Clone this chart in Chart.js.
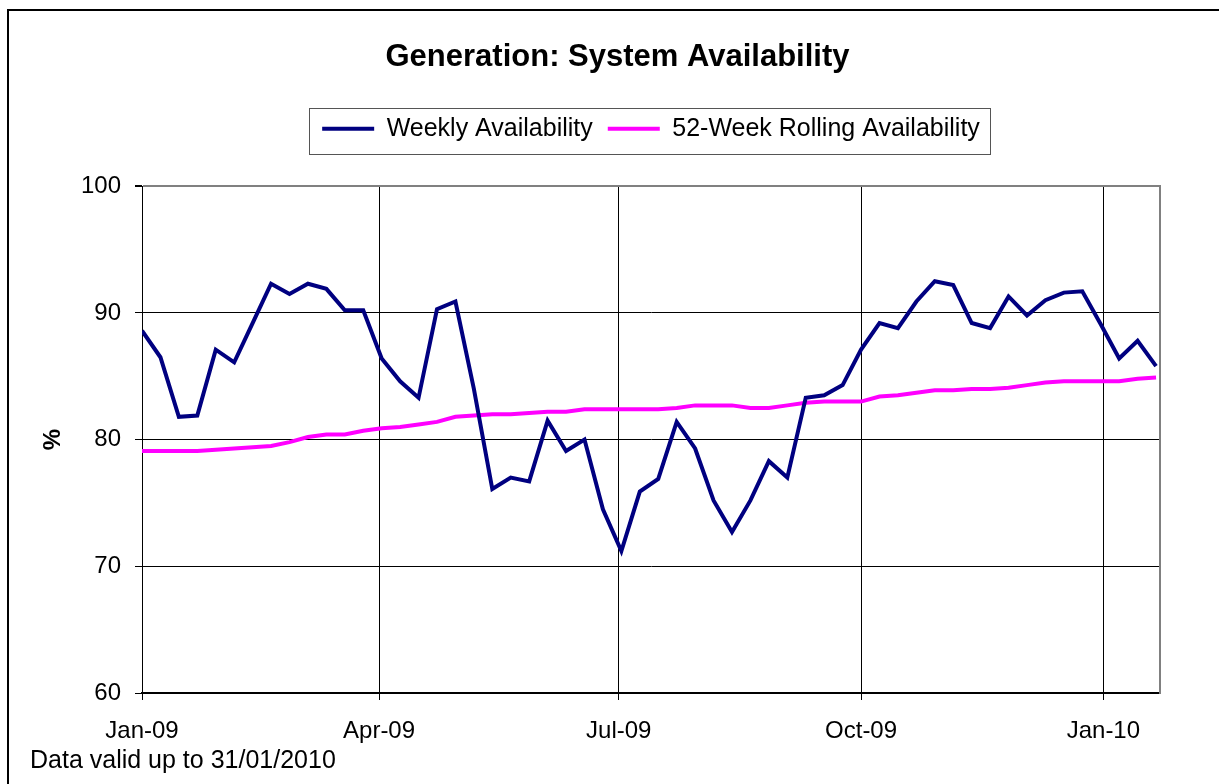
<!DOCTYPE html>
<html>
<head>
<meta charset="utf-8">
<title>Generation: System Availability</title>
<script src="https://cdn.jsdelivr.net/npm/chart.js@4.4.1/dist/chart.umd.min.js"></script>
<style>
  html, body { margin: 0; padding: 0; background: #fff; overflow: hidden; }
  #frame { position: absolute; left: 7px; top: 9px; width: 1400px; height: 1000px; border: 2px solid #000; }
  #wrap { position: absolute; left: 0; top: 0; width: 1219px; height: 784px; }
  #note { position: absolute; left: 30px; top: 747px; font: 25px 'Liberation Sans', Arial, sans-serif; line-height: 25px; color: #000; }
</style>
</head>
<body>
<div id="frame"></div>
<div id="wrap"><canvas id="chartAvailability"></canvas></div>
<div id="note">Data valid up to 31/01/2010</div>
<script>
// weekly readings (Thursdays)
const weekDates = [
    '2009-01-01', '2009-01-08', '2009-01-15', '2009-01-22', '2009-01-29',
    '2009-02-05', '2009-02-12', '2009-02-19', '2009-02-26',
    '2009-03-05', '2009-03-12', '2009-03-19', '2009-03-26',
    '2009-04-02', '2009-04-09', '2009-04-16', '2009-04-23', '2009-04-30',
    '2009-05-07', '2009-05-14', '2009-05-21', '2009-05-28',
    '2009-06-04', '2009-06-11', '2009-06-18', '2009-06-25',
    '2009-07-02', '2009-07-09', '2009-07-16', '2009-07-23', '2009-07-30',
    '2009-08-06', '2009-08-13', '2009-08-20', '2009-08-27',
    '2009-09-03', '2009-09-10', '2009-09-17', '2009-09-24',
    '2009-10-01', '2009-10-08', '2009-10-15', '2009-10-22', '2009-10-29',
    '2009-11-05', '2009-11-12', '2009-11-19', '2009-11-26',
    '2009-12-03', '2009-12-10', '2009-12-17', '2009-12-24', '2009-12-31',
    '2010-01-07', '2010-01-14', '2010-01-21'
];

const weeklyAvailability = [
    88.6, 86.5, 81.8, 81.9, 87.1, 86.1, 89.2, 92.3, 91.5, 92.3,
    91.9, 90.2, 90.2, 86.4, 84.6, 83.3, 90.3, 90.9, 84.0, 76.1,
    77.0, 76.7, 81.5, 79.1, 80.0, 74.5, 71.2, 75.9, 76.9, 81.4,
    79.3, 75.2, 72.7, 75.2, 78.3, 77.0, 83.3, 83.5, 84.3, 87.1,
    89.2, 88.8, 90.9, 92.5, 92.2, 89.2, 88.8, 91.3, 89.8, 91.0,
    91.6, 91.7, 89.1, 86.4, 87.8, 85.8
];

const rollingAvailability = [
    79.1, 79.1, 79.1, 79.1, 79.2, 79.3, 79.4, 79.5, 79.8, 80.2,
    80.4, 80.4, 80.7, 80.9, 81.0, 81.2, 81.4, 81.8, 81.9, 82.0,
    82.0, 82.1, 82.2, 82.2, 82.4, 82.4, 82.4, 82.4, 82.4, 82.5,
    82.7, 82.7, 82.7, 82.5, 82.5, 82.7, 82.9, 83.0, 83.0, 83.0,
    83.4, 83.5, 83.7, 83.9, 83.9, 84.0, 84.0, 84.1, 84.3, 84.5,
    84.6, 84.6, 84.6, 84.6, 84.8, 84.9
];

const tickDates = ['2009-01-01', '2009-04-01', '2009-07-01', '2009-10-01', '2010-01-01'];
const tickLabels = ['Jan-09', 'Apr-09', 'Jul-09', 'Oct-09', 'Jan-10'];

function dayOf(s) {
    const [y, m, d] = s.split('-').map(Number);
    return (Date.UTC(y, m - 1, d) - Date.UTC(2009, 0, 1)) / 86400000;
}

const tickDays = tickDates.map(dayOf);

// extra room between legend and plot
const legendSpace = {
    id: 'legendSpace',
    beforeInit(chart) {
        const fit = chart.legend.fit;
        chart.legend.fit = function () {
            fit.call(this);
            this.height += 35;
        };
    }
};

// border round the legend
const legendBox = {
    id: 'legendBox',
    afterDraw(chart) {
        const boxes = chart.legend.legendHitBoxes;
        if (!boxes || !boxes.length) return;
        const first = boxes[0];
        const last = boxes[boxes.length - 1];
        const left = Math.round(first.left - 13);
        const right = Math.round(last.left + last.width + 10);
        const top = Math.round(first.top - 8);
        const bottom = Math.round(first.top + first.height + 13);
        const ctx = chart.ctx;
        ctx.save();
        ctx.strokeStyle = '#555555';
        ctx.lineWidth = 1;
        ctx.strokeRect(left + 0.5, top + 0.5, right - left, bottom - top);
        ctx.restore();
    }
};

function initAvailabilityChart(canvasId) {
    const ctx = document.getElementById(canvasId).getContext('2d');

    Chart.defaults.font.family = "'Liberation Sans', Arial, sans-serif";
    Chart.defaults.color = '#000000';

    new Chart(ctx, {
        type: 'line',
        data: {
            datasets: [{
                label: 'Weekly Availability',
                data: weekDates.map((d, i) => ({ x: dayOf(d), y: weeklyAvailability[i] })),
                borderColor: '#000080',
                backgroundColor: '#000080',
                borderWidth: 4,
                pointRadius: 0,
                pointStyle: 'line',
                tension: 0
            }, {
                label: '52-Week Rolling Availability',
                data: weekDates.map((d, i) => ({ x: dayOf(d), y: rollingAvailability[i] })),
                borderColor: '#ff00ff',
                backgroundColor: '#ff00ff',
                borderWidth: 4,
                pointRadius: 0,
                pointStyle: 'line',
                tension: 0
            }]
        },
        options: {
            responsive: true,
            maintainAspectRatio: false,
            animation: false,
            layout: {
                padding: { left: 16, right: 0, top: 0, bottom: 0 }
            },
            plugins: {
                title: {
                    display: true,
                    text: 'Generation: System Availability',
                    color: '#000000',
                    font: { size: 31, weight: 'bold' },
                    padding: { top: 39, bottom: 25 }
                },
                legend: {
                    position: 'top',
                    fullSize: false,
                    labels: {
                        usePointStyle: true,
                        pointStyle: 'line',
                        pointStyleWidth: 52,
                        padding: 15,
                        color: '#000000',
                        font: { size: 25 }
                    }
                },
                tooltip: { enabled: false }
            },
            scales: {
                x: {
                    type: 'linear',
                    position: 'bottom',
                    min: 0,
                    max: 386.5,
                    afterBuildTicks: function (scale) {
                        scale.ticks = tickDays.map(v => ({ value: v }));
                    },
                    afterFit: function (scale) {
                        scale.height = 91;
                    },
                    grid: {
                        color: '#000000',
                        lineWidth: 1,
                        tickLength: 7
                    },
                    border: {
                        color: '#000000',
                        width: 2
                    },
                    ticks: {
                        autoSkip: false,
                        maxRotation: 0,
                        padding: 17,
                        font: { size: 24 },
                        callback: function (value) {
                            const i = tickDays.indexOf(value);
                            return i >= 0 ? tickLabels[i] : '';
                        }
                    }
                },
                y: {
                    position: 'left',
                    min: 60,
                    max: 100,
                    afterFit: function (scale) {
                        scale.width = 126;
                    },
                    title: {
                        display: true,
                        text: '%',
                        font: { size: 24, weight: 'bold' },
                        padding: { top: 23, bottom: 0 }
                    },
                    grid: {
                        color: c => (c.tick && c.tick.value === 100 ? '#808080' : '#000000'),
                        lineWidth: c => (c.tick && c.tick.value === 100 ? 2 : 1),
                        tickColor: '#000000',
                        tickLength: 7
                    },
                    border: {
                        color: '#000000',
                        width: 1
                    },
                    ticks: {
                        stepSize: 10,
                        padding: 14,
                        font: { size: 24 }
                    }
                },
                y2: {
                    position: 'right',
                    min: 60,
                    max: 100,
                    afterFit: function (scale) {
                        scale.width = 59;
                    },
                    grid: { display: false },
                    ticks: { display: false },
                    border: {
                        color: '#808080',
                        width: 2
                    }
                }
            }
        },
        plugins: [legendSpace, legendBox]
    });
}

document.addEventListener('DOMContentLoaded', function () {
    initAvailabilityChart('chartAvailability');
});
</script>
</body>
</html>
